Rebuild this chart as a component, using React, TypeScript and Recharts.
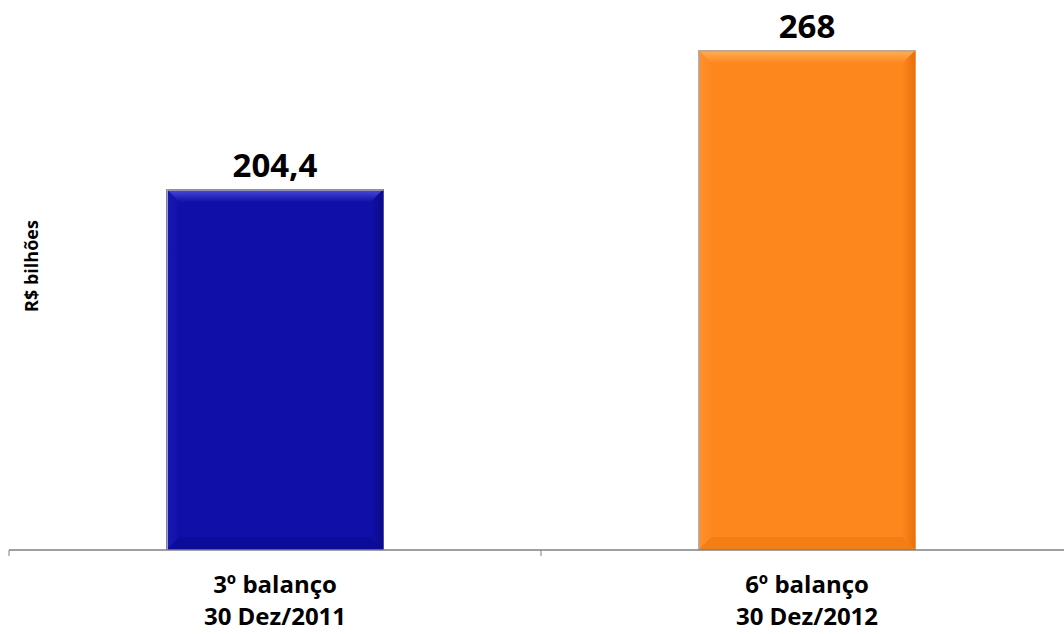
import React from 'react';
import { BarChart, Bar, XAxis, YAxis, Cell, LabelList } from 'recharts';

// Chart data
const categories = ['3º balanço', '6º balanço'];
const periods = ['30 Dez/2011', '30 Dez/2012'];
const values = [204.4, 268];

const data = categories.map((c, i) => ({ name: c, period: periods[i], value: values[i] }));

const FONT = '"Open Sans", "Noto Sans", "Liberation Sans", sans-serif';

// Bevel palettes for the two bars
const palettes = [
  { base: '#1010a8', hi: '#4c4cdc', left: '#1818b8', right: '#0a0a88', bottom: '#0c0c96' },
  { base: '#fd871c', hi: '#ffb15c', left: '#ff9230', right: '#e86f0c', bottom: '#f07a14' },
];

const BevelBar = (props: any) => {
  const { x, y, width: w, height: h, index } = props;
  if (!w || !h) return null;
  const p = palettes[index % palettes.length];
  const b = Math.min(13, w / 2, h / 2);
  return (
    <g>
      <rect x={x} y={y} width={w} height={h} fill={p.base} />
      <polygon
        points={`${x},${y} ${x + w},${y} ${x + w - b},${y + b} ${x + b},${y + b}`}
        fill={`url(#bevel-top-${index})`}
      />
      <polygon
        points={`${x},${y} ${x + b},${y + b} ${x + b},${y + h - b} ${x},${y + h}`}
        fill={`url(#bevel-left-${index})`}
      />
      <polygon
        points={`${x + w},${y} ${x + w},${y + h} ${x + w - b},${y + h - b} ${x + w - b},${y + b}`}
        fill={`url(#bevel-right-${index})`}
      />
      <polygon
        points={`${x},${y + h} ${x + b},${y + h - b} ${x + w - b},${y + h - b} ${x + w},${y + h}`}
        fill={p.bottom}
        opacity={0.7}
      />
      <line x1={x} y1={y + 0.75} x2={x + w} y2={y + 0.75} stroke="#a9a9a9" strokeWidth={1.5} />
      <line x1={x + 0.75} y1={y} x2={x + 0.75} y2={y + h} stroke="#a9a9a9" strokeWidth={1.5} />
    </g>
  );
};

const CategoryTick = (props: any) => {
  const { x, y, payload, index } = props;
  const half = payload && payload.offset ? payload.offset : 0;
  const row = data[index] || data.find((d) => d.name === payload.value);
  return (
    <g>
      <line x1={x - half} y1={y - 6} x2={x - half} y2={y} stroke="#808080" strokeWidth={1} />
      <text
        x={x}
        y={y}
        textAnchor="middle"
        fontFamily={FONT}
        fontWeight={700}
        fontSize={24}
        fill="#000"
      >
        <tspan x={x} dy={37}>{payload.value}</tspan>
        <tspan x={x} dy={32}>{row ? row.period : ''}</tspan>
      </text>
    </g>
  );
};

const UnitLabel = (props: any) => {
  const vb = props.viewBox || {};
  const cx = 31;
  const cy = (vb.y || 0) + (vb.height || 0) / 2 - 21;
  return (
    <text
      x={cx}
      y={cy}
      transform={`rotate(-90 ${cx} ${cy})`}
      textAnchor="middle"
      dominantBaseline="central"
      fontFamily={FONT}
      fontWeight={700}
      fontSize={18}
      fill="#000"
    >
      R$ bilhões
    </text>
  );
};

export default function App() {
  return (
    <div
      style={{
        position: 'absolute',
        left: 0,
        top: 0,
        width: 1064,
        height: 634,
        overflow: 'hidden',
        background: '#fff',
      }}
    >
      <BarChart
        width={1073}
        height={634}
        data={data}
        margin={{ top: 24, right: 0, bottom: 0, left: 0 }}
        barCategoryGap="29.6%"
      >
        <defs>
          {palettes.map((p, i) => (
            <React.Fragment key={i}>
              <linearGradient id={`bevel-top-${i}`} x1="0" y1="0" x2="0" y2="1">
                <stop offset="0%" stopColor={p.hi} />
                <stop offset="100%" stopColor={p.base} />
              </linearGradient>
              <linearGradient id={`bevel-left-${i}`} x1="0" y1="0" x2="1" y2="0">
                <stop offset="0%" stopColor={p.left} />
                <stop offset="100%" stopColor={p.base} />
              </linearGradient>
              <linearGradient id={`bevel-right-${i}`} x1="0" y1="0" x2="1" y2="0">
                <stop offset="0%" stopColor={p.base} />
                <stop offset="100%" stopColor={p.right} />
              </linearGradient>
            </React.Fragment>
          ))}
        </defs>
        <XAxis
          dataKey="name"
          height={84}
          axisLine={{ stroke: '#808080', strokeWidth: 1.5 }}
          tickLine={false}
          tickSize={6}
          tickMargin={0}
          interval={0}
          tick={<CategoryTick />}
        />
        <YAxis
          width={9}
          domain={[39.2, 280]}
          allowDataOverflow
          axisLine={false}
          tickLine={false}
          tick={false}
          label={<UnitLabel />}
        />
        <Bar dataKey="value" isAnimationActive={false} shape={<BevelBar />}>
          {data.map((d, i) => (
            <Cell key={d.name} fill={palettes[i].base} />
          ))}
          <LabelList
            dataKey="value"
            position="top"
            offset={12}
            formatter={(v: any) => Number(v).toLocaleString('pt-BR')}
            style={{ fontFamily: FONT, fontWeight: 700, fontSize: 33, fill: '#000' }}
          />
        </Bar>
      </BarChart>
    </div>
  );
}
